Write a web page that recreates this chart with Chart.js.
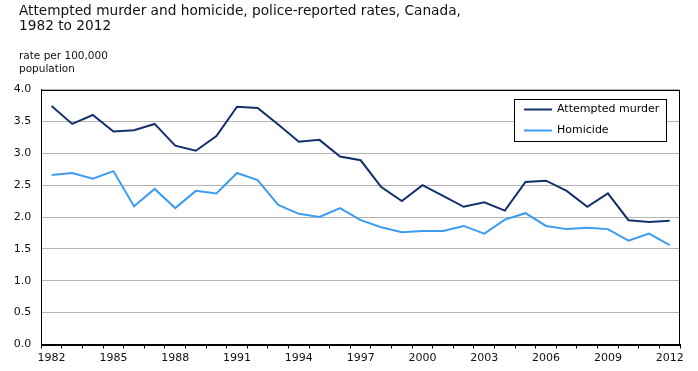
<!DOCTYPE html>
<html>
<head>
<meta charset="utf-8">
<script src="https://cdn.jsdelivr.net/npm/chart.js@4/dist/chart.umd.min.js"></script>
<style>
  body { margin: 0; background: #fff; }
  canvas { display: block; }
</style>
</head>
<body>
<canvas id="rateChart" width="698" height="371"></canvas>
<script>
// values
const years = [];
for (let y = 1982; y <= 2012; y++) years.push(String(y));

const attemptedMurder = [3.74, 3.46, 3.60, 3.34, 3.36, 3.46, 3.12, 3.04, 3.27, 3.73,
                         3.71, 3.45, 3.18, 3.21, 2.95, 2.89, 2.47, 2.25, 2.50, 2.33,
                         2.16, 2.23, 2.10, 2.55, 2.57, 2.41, 2.16, 2.37, 1.95, 1.92, 1.94];
const homicide = [2.66, 2.69, 2.60, 2.72, 2.17, 2.44, 2.14, 2.41, 2.37, 2.69,
                  2.58, 2.19, 2.05, 2.00, 2.14, 1.95, 1.84, 1.76, 1.78, 1.78,
                  1.86, 1.74, 1.96, 2.06, 1.86, 1.81, 1.83, 1.81, 1.63, 1.74, 1.56];

const shownYears = ["1982", "1985", "1988", "1991", "1994", "1997", "2000", "2003", "2006", "2009", "2012"];

const FONT = "'DejaVu Sans', Verdana, sans-serif";

/* ==========================
   Nudge title blocks right
========================== */
const titleIndent = {
    id: "titleIndent",
    afterLayout(chart) {
        chart.boxes.forEach(box => {
            if (box.options && box.options.text !== undefined && !box.axis) {
                box.left += 7;
                box.right += 7;
            }
        });
    }
};

/* ==========================
   Frame + boxed legend
========================== */
const frameAndLegend = {
    id: "frameAndLegend",
    afterDraw(chart) {
        const ctx = chart.ctx;
        const a = chart.chartArea;
        ctx.save();
        ctx.strokeStyle = "#000";
        ctx.lineWidth = 1;
        ctx.strokeRect(Math.round(a.left) + 0.5, Math.round(a.top) + 0.5,
                       Math.round(a.right - a.left) - 1, Math.round(a.bottom - a.top));

        // legend box in the top right corner of the plot
        const bx = 514.5, by = 99.5, bw = 152, bh = 42;
        ctx.fillStyle = "#fff";
        ctx.fillRect(bx, by, bw, bh);
        ctx.strokeRect(bx, by, bw, bh);
        ctx.font = "11px " + FONT;
        ctx.textBaseline = "middle";
        chart.data.datasets.forEach((ds, i) => {
            const ly = 109.5 + i * 21;
            ctx.strokeStyle = ds.borderColor;
            ctx.lineWidth = 2;
            ctx.beginPath();
            ctx.moveTo(524, ly);
            ctx.lineTo(552, ly);
            ctx.stroke();
            ctx.fillStyle = "#000";
            ctx.fillText(ds.label, 557, ly);
        });
        ctx.restore();
    }
};

new Chart(document.getElementById("rateChart"), {
    type: "line",
    data: {
        labels: years,
        datasets: [{
            label: "Attempted murder",
            data: attemptedMurder,
            borderColor: "#13306c",
            borderWidth: 2,
            pointRadius: 0,
            tension: 0
        }, {
            label: "Homicide",
            data: homicide,
            borderColor: "#3c9cf2",
            borderWidth: 2,
            pointRadius: 0,
            tension: 0
        }]
    },
    options: {
        responsive: false,
        animation: false,
        layout: { padding: { left: 12, right: 18, top: 0, bottom: 0 } },
        plugins: {
            legend: { display: false },
            tooltip: { enabled: false },
            title: {
                display: true,
                align: "start",
                text: ["Attempted murder and homicide, police-reported rates, Canada,", "1982 to 2012"],
                color: "#111",
                font: { family: FONT, size: 13.7, weight: "normal", lineHeight: 1.05 },
                padding: { top: 4.5, bottom: 0 }
            },
            subtitle: {
                display: true,
                align: "start",
                text: ["rate per 100,000", "population"],
                color: "#111",
                font: { family: FONT, size: 10.5, lineHeight: 1.24 },
                padding: { top: 16.6, bottom: 13.6 }
            }
        },
        scales: {
            x: {
                offset: true,
                grid: {
                    offset: true,
                    drawOnChartArea: false,
                    drawTicks: true,
                    tickLength: 4,
                    color: "#000"
                },
                border: { color: "#000" },
                ticks: {
                    autoSkip: false,
                    maxRotation: 0,
                    padding: 3,
                    color: "#111",
                    font: { family: FONT, size: 11 },
                    callback: function (v) {
                        const lab = this.getLabelForValue(v);
                        return shownYears.includes(lab) ? lab : "";
                    }
                },
                afterFit: (s) => { s.height = 26.5; }
            },
            y: {
                min: 0,
                max: 4,
                grid: { color: "#b4b4b4", drawTicks: false },
                border: { color: "#000" },
                ticks: {
                    stepSize: 0.5,
                    padding: 10,
                    color: "#111",
                    font: { family: FONT, size: 11 },
                    callback: (v) => v.toFixed(1)
                },
                afterFit: (s) => { s.width = 29.3; }
            }
        }
    },
    plugins: [titleIndent, frameAndLegend]
});
</script>
</body>
</html>
